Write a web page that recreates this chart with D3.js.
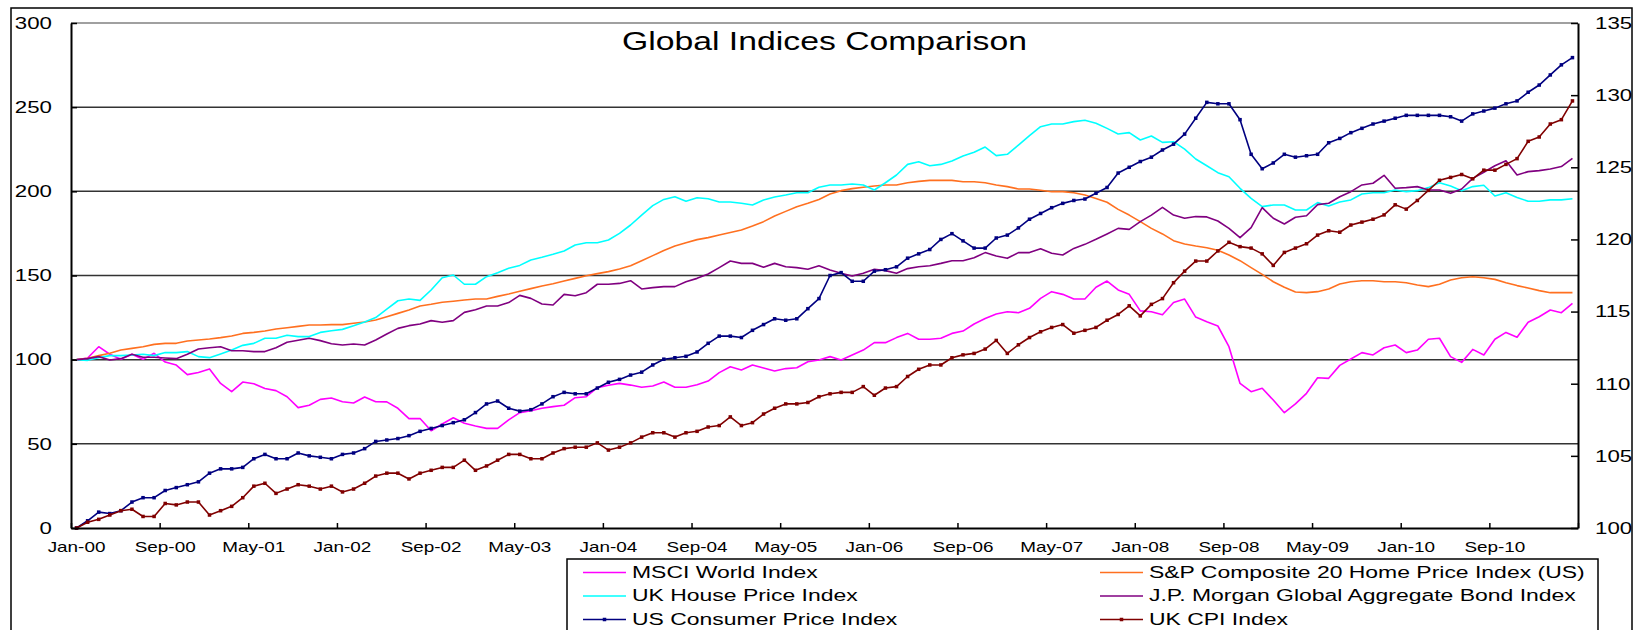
<!DOCTYPE html>
<html>
<head>
<meta charset="utf-8">
<script src="https://cdn.jsdelivr.net/npm/d3@7"></script>
<style>
  body { margin: 0; background: #fff; }
  text { font-family: "Liberation Sans", Arial, sans-serif; fill: #000; }
</style>
</head>
<body>
<script>
// Chart size
const width = 1633;
const height = 630;

// Monthly categories Jan-00 .. Apr-11
const months = d3.timeMonths(new Date(2000, 0, 1), new Date(2011, 4, 1));
const tickLabels = ["Jan-00", "Sep-00", "May-01", "Jan-02", "Sep-02", "May-03", "Jan-04", "Sep-04",
  "May-05", "Jan-06", "Sep-06", "May-07", "Jan-08", "Sep-08", "May-09", "Jan-10", "Sep-10"];
const leftTicks = [0, 50, 100, 150, 200, 250, 300];
const rightTicks = [100, 105, 110, 115, 120, 125, 130, 135];

// Left axis series
const msci = [
  100, 101, 107.7, 103.2, 100.2, 103.2, 100.2, 103.8, 98.6, 96.8, 91.1, 92.4,
  94.5, 85.9, 81, 86.7, 85.7, 82.9, 81.6, 78, 71.5, 72.9, 76.4, 77.2,
  75, 74.3, 77.8, 75, 74.9, 71.1, 65, 65, 57.8, 61.8, 65.5, 62.2,
  60.6, 59.2, 59.2, 64.2, 68.5, 69.7, 71.1, 72.1, 72.9, 77.4, 78, 83.4,
  84.8, 85.9, 84.9, 83.6, 84.4, 86.7, 83.6, 83.6, 85.1, 87.3, 92.3, 95.8,
  93.9, 96.8, 95, 93.3, 94.7, 95.2, 98.8, 99.8, 101.8, 99.8, 102.8, 105.7,
  110.1, 110.1, 113.1, 115.6, 112.1, 112.1, 112.7, 115.6, 117, 121.2, 124.4, 127.1,
  128.5, 127.9, 130.5, 136.4, 140.4, 138.8, 136, 136, 143, 146.7, 141.4, 138.8,
  129, 128.5, 126.7, 134, 136, 125.3, 122.5, 120, 107.7, 85.9, 81, 83,
  76, 68.5, 73.7, 80, 89.3, 88.9, 96.6, 100.4, 104.2, 102.8, 107.1, 108.7,
  104.2, 105.7, 112.1, 112.7, 101.8, 98.4, 106.1, 102.8, 112.1, 116.2, 113.3, 122.2,
  125.5, 129.5, 127.9, 133.5
];
const spCase = [
  100, 100.8, 102.4, 103.8, 105.7, 106.7, 107.7, 109.1, 109.7, 109.7, 111.1, 111.7,
  112.3, 113.1, 114.1, 115.6, 116.2, 117, 118.2, 119, 119.8, 120.6, 120.6, 120.8,
  120.8, 121.6, 122.4, 123.6, 125.5, 127.5, 129.5, 131.9, 132.9, 134.1, 134.7, 135.4,
  136, 136, 137.6, 139, 140.6, 142.2, 143.8, 145.1, 146.7, 148.3, 149.9, 151.1,
  152.3, 153.9, 155.8, 158.8, 161.8, 164.8, 167.5, 169.5, 171.3, 172.5, 174.1, 175.6,
  177, 179.4, 182, 185.3, 188.1, 190.9, 192.9, 195.2, 198.4, 200.4, 201.6, 202.4,
  203.2, 203.8, 203.8, 205.1, 205.9, 206.5, 206.5, 206.5, 205.7, 205.7, 205.1, 203.8,
  202.8, 201.4, 201.4, 200.6, 199.8, 199.8, 199.2, 197.8, 195.8, 193.5, 189.3, 185.9,
  182, 178, 174.7, 170.7, 168.7, 167.5, 166.5, 165, 162.2, 158.8, 154.7, 150.7,
  146.3, 143, 140.2, 139.8, 140.4, 142, 145, 146.3, 146.9, 146.9, 146.3, 146.3,
  145.7, 144.4, 143.4, 144.8, 147.3, 148.7, 149.3, 148.7, 147.7, 145.7, 144, 142.6,
  141, 139.8, 139.8, 139.8
];
const ukHouse = [
  100, 99.6, 101.2, 102.4, 102.4, 102.8, 103.2, 102.4, 104.2, 104.2, 104.8, 101.8,
  101.2, 103.4, 105.7, 108.5, 109.7, 112.7, 112.7, 114.5, 113.7, 113.7, 116.2, 117.2,
  118, 120.2, 122.4, 125, 130, 135, 136, 135.2, 141.4, 148.7, 150.3, 144.8,
  144.8, 149.3, 151.7, 154.3, 156, 159.2, 160.8, 162.6, 164.6, 168.1, 169.5, 169.5,
  171.1, 175, 180, 185.9, 191.5, 195.2, 196.8, 194.1, 196.2, 195.6, 193.7, 193.7,
  192.9, 191.9, 194.9, 196.6, 197.8, 199.2, 199.2, 202.4, 203.8, 203.8, 204.4, 203.8,
  200.8, 205.1, 209.7, 216, 217.6, 215.2, 216, 218, 221, 223.2, 226.3, 221.2,
  222, 227.5, 233.1, 238.4, 240, 240, 241.4, 242.2, 240.4, 237.4, 234.1, 234.9,
  230.5, 232.9, 229.1, 229.5, 225.1, 219.2, 215.2, 211.1, 208.7, 201.8, 195.8, 190.9,
  191.9, 191.9, 188.9, 188.9, 193.3, 191.3, 193.7, 194.9, 198.4, 199.2, 199.2, 200.8,
  199.8, 200.4, 202.2, 205.1, 203.2, 200.4, 202.8, 203.6, 197.2, 199.2, 196.4, 194.1,
  194.1, 194.9, 194.9, 195.6
];
const jpMorgan = [
  100, 100.6, 101.8, 99.8, 100.6, 103.2, 101.4, 101.4, 101, 100.6, 103.2, 106.3,
  107.1, 107.7, 105.3, 105.3, 104.8, 104.8, 107.1, 110.3, 111.5, 112.7, 111.3, 109.5,
  108.7, 109.3, 108.7, 111.7, 115.2, 118.6, 120.2, 121.2, 123.2, 122.2, 123.2, 128.1,
  129.7, 131.9, 131.9, 133.9, 138.2, 136.4, 133.1, 132.5, 138.8, 138, 139.8, 144.8,
  144.8, 145.3, 146.9, 142, 142.8, 143.4, 143.4, 146.3, 148.3, 150.9, 154.7, 158.6,
  157.2, 157.2, 154.9, 157.2, 155.2, 154.7, 153.7, 155.8, 153.3, 151.3, 149.7, 151.3,
  153.7, 152.9, 151.3, 154.1, 155.2, 155.8, 157.2, 158.8, 158.8, 160.6, 163.6, 161.6,
  160.2, 163.6, 163.6, 165.9, 163.2, 162.2, 166.1, 168.5, 171.5, 174.7, 178, 177.4,
  182, 185.9, 190.5, 185.9, 184, 185, 184.8, 182.4, 178, 172.5, 178.4, 190.3,
  184, 180.6, 184.6, 185.5, 192.1, 192.9, 196.8, 199.8, 203.8, 204.8, 209.5, 201.8,
  202.2, 202.8, 200.8, 200.8, 198.8, 201.4, 207.7, 211.3, 215.2, 218.2, 209.7, 211.7,
  212.3, 213.3, 214.7, 219.6
];

// Right axis series
const usCpi = [
  100.0, 100.5, 101.1, 101.0, 101.2, 101.8, 102.1, 102.1, 102.6, 102.8, 103.0, 103.2,
  103.8, 104.1, 104.1, 104.2, 104.8, 105.1, 104.8, 104.8, 105.2, 105.0, 104.9, 104.8,
  105.1, 105.2, 105.5, 106.0, 106.1, 106.2, 106.4, 106.7, 106.9, 107.1, 107.3, 107.5,
  108.0, 108.6, 108.8, 108.3, 108.1, 108.2, 108.6, 109.1, 109.4, 109.3, 109.3, 109.7,
  110.1, 110.3, 110.6, 110.8, 111.3, 111.7, 111.8, 111.9, 112.2, 112.8, 113.3, 113.3,
  113.2, 113.7, 114.1, 114.5, 114.4, 114.5, 115.2, 115.9, 117.5, 117.7, 117.1, 117.1,
  117.8, 117.9, 118.1, 118.7, 119.0, 119.3, 120.0, 120.4, 119.9, 119.4, 119.4, 120.1,
  120.3, 120.8, 121.4, 121.8, 122.2, 122.5, 122.7, 122.8, 123.2, 123.6, 124.6, 125.0,
  125.4, 125.7, 126.2, 126.6, 127.3, 128.4, 129.5, 129.4, 129.4, 128.3, 125.9, 124.9,
  125.3, 125.9, 125.7, 125.8, 125.9, 126.7, 127.0, 127.4, 127.7, 128.0, 128.2, 128.4,
  128.6, 128.6, 128.6, 128.6, 128.5, 128.2, 128.7, 128.9, 129.1, 129.4, 129.6, 130.2,
  130.7, 131.4, 132.1, 132.6
];
const ukCpi = [
  100.0, 100.4, 100.6, 100.9, 101.2, 101.3, 100.8, 100.8, 101.7, 101.6, 101.8, 101.8,
  100.9, 101.2, 101.5, 102.1, 102.9, 103.1, 102.4, 102.7, 103.0, 102.9, 102.7, 102.9,
  102.5, 102.7, 103.1, 103.6, 103.8, 103.8, 103.4, 103.8, 104.0, 104.2, 104.2, 104.7,
  104.0, 104.3, 104.7, 105.1, 105.1, 104.8, 104.8, 105.2, 105.5, 105.6, 105.6, 105.9,
  105.4, 105.6, 105.9, 106.3, 106.6, 106.6, 106.3, 106.6, 106.7, 107.0, 107.1, 107.7,
  107.1, 107.3, 107.9, 108.3, 108.6, 108.6, 108.7, 109.1, 109.3, 109.4, 109.4, 109.8,
  109.2, 109.7, 109.8, 110.5, 111.0, 111.3, 111.3, 111.8, 112.0, 112.1, 112.4, 113.0,
  112.1, 112.7, 113.2, 113.6, 113.9, 114.1, 113.5, 113.7, 113.9, 114.4, 114.8, 115.4,
  114.7, 115.5, 115.9, 117.0, 117.8, 118.5, 118.5, 119.2, 119.8, 119.5, 119.4, 119.0,
  118.2, 119.1, 119.4, 119.7, 120.3, 120.6, 120.5, 121.0, 121.2, 121.4, 121.7, 122.4,
  122.1, 122.7, 123.4, 124.1, 124.3, 124.5, 124.2, 124.8, 124.8, 125.2, 125.6, 126.8,
  127.1, 128.0, 128.3, 129.6
];

const series = [
  { name: "MSCI World Index", values: msci, axis: "left", color: "#ff00ff", marker: false },
  { name: "S&P Composite 20 Home Price Index (US)", values: spCase, axis: "left", color: "#ff7020", marker: false },
  { name: "UK House Price Index", values: ukHouse, axis: "left", color: "#00ffff", marker: false },
  { name: "J.P. Morgan Global Aggregate Bond Index", values: jpMorgan, axis: "left", color: "#800080", marker: false },
  { name: "US Consumer Price Index", values: usCpi, axis: "right", color: "#000080", marker: true },
  { name: "UK CPI Index", values: ukCpi, axis: "right", color: "#800000", marker: true }
];

// Plot box
const plot = { left: 71, right: 1578, top: 23, bottom: 528 };
const stretch = 1.35; // the source text is drawn wide

const svg = d3.select("body").append("svg")
  .attr("width", width)
  .attr("height", height);

// Outer chart border
svg.append("rect")
  .attr("x", 11).attr("y", 8)
  .attr("width", 1621).attr("height", 700)
  .attr("fill", "none").attr("stroke", "#000").attr("stroke-width", 1.5);

// Scales
const x = d3.scaleBand().domain(d3.range(months.length)).range([plot.left, plot.right]).padding(0);
const xEdge = d3.scaleLinear().domain([0, months.length]).range([plot.left, plot.right]);
const yL = d3.scaleLinear().domain([0, 300]).range([plot.bottom, plot.top]);
const yR = d3.scaleLinear().domain([100, 135]).range([plot.bottom, plot.top]);
const cx = i => x(i) + x.bandwidth() / 2;

// Gridlines
svg.append("g")
  .selectAll("line")
  .data(leftTicks.slice(1))
  .enter()
  .append("line")
  .attr("x1", plot.left).attr("x2", plot.right)
  .attr("y1", d => yL(d)).attr("y2", d => yL(d))
  .attr("stroke", d => d === 300 ? "#808080" : "#333")
  .attr("stroke-width", 1.5);

// Title
svg.append("text")
  .attr("transform", `translate(${(plot.left + plot.right) / 2},50) scale(${stretch},1)`)
  .attr("text-anchor", "middle")
  .style("font-size", "25px")
  .text("Global Indices Comparison");

// Lines
const lineFor = s => d3.line()
  .x((d, i) => cx(i))
  .y(d => (s.axis === "left" ? yL : yR)(d));

series.forEach(s => {
  svg.append("path")
    .datum(s.values)
    .attr("fill", "none")
    .attr("stroke", s.color)
    .attr("stroke-width", 1.6)
    .attr("stroke-linejoin", "round")
    .attr("d", lineFor(s));

  if (s.marker) {
    svg.append("g")
      .selectAll("rect")
      .data(s.values)
      .enter()
      .append("rect")
      .attr("x", (d, i) => cx(i) - 1.75)
      .attr("y", d => yR(d) - 1.75)
      .attr("width", 3.5).attr("height", 3.5)
      .attr("fill", s.color);
  }
});

// Axes
function stretchText(g, offset) {
  g.selectAll("text")
    .style("font-size", g.attr("data-size"))
    .attr("transform", `scale(${stretch},1)`);
  if (offset !== undefined) g.selectAll("text").attr("x", offset / stretch);
}

const gLeft = svg.append("g")
  .attr("transform", `translate(${plot.left},0)`)
  .attr("data-size", "16.5px")
  .call(d3.axisLeft(yL).tickValues(leftTicks).tickSizeInner(-6).tickSizeOuter(0).tickPadding(19));
stretchText(gLeft, -19);

const gRight = svg.append("g")
  .attr("transform", `translate(${plot.right},0)`)
  .attr("data-size", "16.5px")
  .call(d3.axisRight(yR).tickValues(rightTicks).tickSizeInner(-7).tickSizeOuter(0).tickPadding(17));
stretchText(gRight, 17);

const gTicks = svg.append("g")
  .attr("transform", `translate(0,${plot.bottom})`)
  .call(d3.axisBottom(xEdge).tickValues(d3.range(0, months.length + 1, 8))
    .tickSizeInner(-5).tickSizeOuter(0).tickFormat(""));

const gLabels = svg.append("g")
  .attr("transform", `translate(0,${plot.bottom})`)
  .attr("data-size", "14px")
  .call(d3.axisBottom(x).tickValues(d3.range(0, months.length, 8))
    .tickSize(0).tickPadding(14).tickFormat(i => tickLabels[i / 8]));
gLabels.select(".domain").remove();
stretchText(gLabels);

[gLeft, gRight, gTicks].forEach(g => {
  g.select(".domain").attr("stroke", "#000").attr("stroke-width", 2);
  g.selectAll(".tick line").attr("stroke", "#000").attr("stroke-width", 1.5);
});

// Legend
const legend = svg.append("g");
legend.append("rect")
  .attr("x", 567).attr("y", 559)
  .attr("width", 1031).attr("height", 100)
  .attr("fill", "#fff").attr("stroke", "#000").attr("stroke-width", 1.5);

const legendCols = [583, 1100];
const legendRows = [572.5, 596, 619.5];

series.forEach((s, k) => {
  const lx = legendCols[k % 2];
  const ly = legendRows[Math.floor(k / 2)];
  legend.append("line")
    .attr("x1", lx).attr("x2", lx + 43)
    .attr("y1", ly).attr("y2", ly)
    .attr("stroke", s.color).attr("stroke-width", 1.6);
  if (s.marker) {
    legend.append("rect")
      .attr("x", lx + 21.5 - 1.75).attr("y", ly - 1.75)
      .attr("width", 3.5).attr("height", 3.5)
      .attr("fill", s.color);
  }
  legend.append("text")
    .attr("transform", `translate(${lx + 49},${ly + 5}) scale(${stretch},1)`)
    .style("font-size", "17px")
    .text(s.name);
});
</script>
</body>
</html>
